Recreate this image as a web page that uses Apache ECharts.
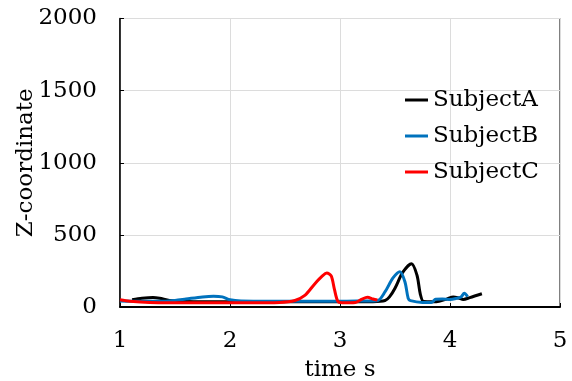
<!DOCTYPE html>
<html>
<head>
<meta charset="utf-8">
<script src="https://cdn.jsdelivr.net/npm/echarts@6/dist/echarts.min.js"></script>
<style>
  html, body { margin: 0; padding: 0; background: #fff; }
  #chart { width: 572px; height: 381px; }
</style>
</head>
<body>
<div id="chart"></div>
<script>
// Z-coordinate over time for three subjects
const seriesNames = ['SubjectA', 'SubjectB', 'SubjectC'];
const xTicks = [1, 2, 3, 4, 5];
const yTicks = [0, 500, 1000, 1500, 2000];

const timeA = [1.11, 1.2, 1.3, 1.36, 1.45, 1.6, 2.0, 2.5, 3.0, 3.3, 3.41, 3.45, 3.5, 3.57, 3.65, 3.7, 3.73, 3.76, 3.85, 3.9, 3.97, 4.03, 4.08, 4.12, 4.18, 4.29];
const zA    = [50, 60, 65, 60, 45, 38, 36, 36, 36, 37, 45, 70, 130, 240, 300, 220, 90, 38, 36, 40, 55, 70, 62, 52, 65, 92];

const timeB = [1.0, 1.2, 1.4, 1.5, 1.6, 1.75, 1.85, 1.93, 2.0, 2.1, 2.5, 3.0, 3.2, 3.34, 3.41, 3.48, 3.545, 3.59, 3.62, 3.64, 3.75, 3.83, 3.87, 3.93, 4.0, 4.06, 4.1, 4.13, 4.16];
const zB    = [42, 40, 40, 45, 55, 70, 75, 70, 50, 42, 40, 40, 42, 44, 106, 200, 245, 175, 60, 44, 32, 32, 53, 55, 52, 60, 70, 95, 72];

const timeC = [1.0, 1.09, 1.27, 1.73, 2.18, 2.45, 2.59, 2.68, 2.77, 2.84, 2.88, 2.92, 2.95, 2.98, 3.02, 3.14, 3.2, 3.25, 3.3, 3.34];
const zC    = [50, 40, 32, 30, 30, 32, 45, 80, 160, 215, 235, 215, 120, 40, 30, 32, 55, 67, 55, 48];

const colors = ['#000000', '#0072BD', '#FF0000'];
const FONT = 'DejaVu Serif';
const FS = 23;

function pairs(t, z) { return t.map((v, i) => [v, z[i]]); }
const dataSets = [pairs(timeA, zA), pairs(timeB, zB), pairs(timeC, zC)];

const chart = echarts.init(document.getElementById('chart'));
chart.setOption({
  animation: false,
  backgroundColor: '#fff',
  textStyle: { fontFamily: FONT },
  grid: {
    left: 120, right: 12, top: 18.5, bottom: 74,
    outerBoundsMode: 'none', containLabel: false,
    show: true, borderColor: '#000', borderWidth: 1
  },
  legend: {
    data: seriesNames,
    orient: 'vertical',
    left: 400,
    top: 82,
    itemWidth: 23,
    itemHeight: 14,
    itemGap: 10,
    icon: 'path://M0,0 L23,0 L23,3 L0,3 Z',
    textStyle: { fontFamily: FONT, fontSize: FS, color: '#000', lineHeight: 26 }
  },
  xAxis: {
    type: 'value', min: xTicks[0], max: xTicks[xTicks.length - 1], interval: 1,
    name: 'time s', nameLocation: 'middle', nameGap: 52, nameMoveOverlap: false,
    nameTextStyle: { fontFamily: FONT, fontSize: FS, color: '#000' },
    axisLine: { show: true, lineStyle: { color: '#000', width: 2 } },
    axisTick: { show: true, inside: true, length: 4, lineStyle: { color: '#000' } },
    axisLabel: { fontFamily: FONT, fontSize: FS, color: '#000', margin: 23, formatter: v => String(v) },
    splitLine: { show: true, lineStyle: { color: '#dcdcdc', width: 1 } }
  },
  yAxis: {
    type: 'value', min: yTicks[0], max: yTicks[yTicks.length - 1], interval: 500,
    name: 'Z-coordinate', nameLocation: 'middle', nameGap: 82, nameMoveOverlap: false,
    nameTextStyle: { fontFamily: FONT, fontSize: FS, color: '#000' },
    axisLine: { show: true, lineStyle: { color: '#000', width: 1.5 } },
    axisTick: { show: true, inside: true, length: 4, lineStyle: { color: '#000' } },
    axisLabel: { fontFamily: FONT, fontSize: FS, color: '#000', margin: 23, formatter: v => String(v) },
    splitLine: { show: true, lineStyle: { color: '#dcdcdc', width: 1 } }
  },
  series: seriesNames.map((name, i) => ({
    name: name,
    type: 'line',
    data: dataSets[i],
    smooth: 0.3,
    showSymbol: false,
    symbol: 'none',
    color: colors[i],
    lineStyle: { color: colors[i], width: 3 },
    z: 2 + i
  }))
});
</script>
</body>
</html>
